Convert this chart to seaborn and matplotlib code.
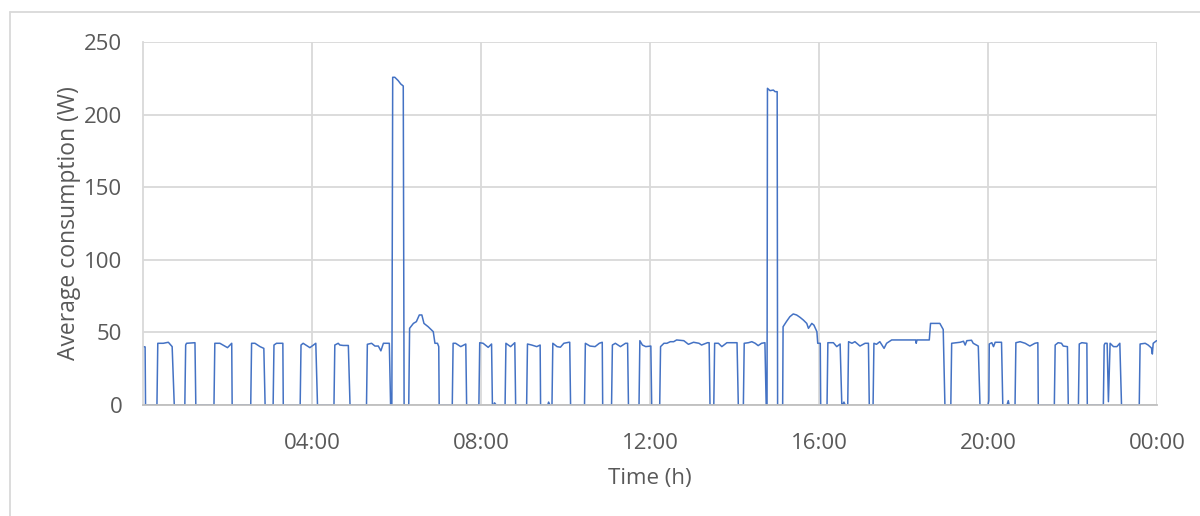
import matplotlib
matplotlib.use("Agg")
import matplotlib.pyplot as plt
from matplotlib.lines import Line2D
import seaborn as sns
import pandas as pd

# Average consumption trace, read off the reference as polyline vertices
# hour of day (0-24) and watts
hours = [
    0.00, 0.05, 0.06,
    0.33, 0.35, 0.48, 0.60, 0.69, 0.74,
    0.99, 1.01, 1.03, 1.23, 1.25,
    1.68, 1.70, 1.82, 2.00, 2.10, 2.11,
    2.55, 2.57, 2.65, 2.77, 2.86, 2.89,
    3.08, 3.10, 3.16, 3.31, 3.32,
    3.72, 3.74, 3.79, 3.95, 4.09, 4.13,
    4.52, 4.54, 4.62, 4.66, 4.74, 4.86, 4.90,
    5.29, 5.31, 5.41, 5.49, 5.57, 5.63, 5.69, 5.83, 5.86,
    5.89, 5.91, 5.96, 6.04, 6.10, 6.16, 6.18,
    6.29, 6.31, 6.40, 6.47, 6.54, 6.60, 6.65, 6.75, 6.87, 6.91, 6.97, 7.00, 7.01,
    7.32, 7.34, 7.40, 7.52, 7.64, 7.66,
    7.95, 7.97, 8.05, 8.17, 8.25, 8.27,
    8.30, 8.32, 8.36,
    8.57, 8.59, 8.70, 8.80, 8.82,
    9.08, 9.10, 9.20, 9.32, 9.40, 9.41,
    9.58, 9.60, 9.63,
    9.68, 9.70, 9.80, 9.88, 9.96, 10.08, 10.10, 10.12,
    10.45, 10.47, 10.58, 10.70, 10.80, 10.87, 10.88,
    11.09, 11.11, 11.18, 11.30, 11.42, 11.47, 11.49,
    11.74, 11.76, 11.82, 11.90, 12.02, 12.04,
    12.23, 12.25, 12.33, 12.40, 12.48, 12.56, 12.63, 12.80, 12.91, 13.03, 13.16, 13.22, 13.36, 13.40, 13.42,
    13.51, 13.53, 13.62, 13.70, 13.82, 14.06, 14.09,
    14.21, 14.23, 14.33, 14.41, 14.49, 14.56, 14.64, 14.72, 14.75,
    14.77, 14.78, 14.84, 14.92, 14.96, 15.01, 15.02,
    15.14, 15.15, 15.23, 15.31, 15.39, 15.47, 15.55, 15.63, 15.71, 15.75, 15.83, 15.88, 15.95, 15.97, 16.03, 16.04,
    16.19, 16.21, 16.34, 16.42, 16.50, 16.54,
    16.56, 16.59, 16.62,
    16.68, 16.70, 16.78, 16.85, 16.97, 17.09, 17.17, 17.19,
    17.28, 17.30, 17.36, 17.44, 17.54, 17.60, 17.72, 18.00, 18.29, 18.30, 18.32, 18.61, 18.64, 18.86, 18.94, 18.98,
    19.12, 19.14, 19.34, 19.42, 19.46, 19.50, 19.61, 19.65, 19.77, 19.81,
    20.00, 20.02, 20.03, 20.09, 20.13, 20.17, 20.32, 20.35,
    20.45, 20.48, 20.50,
    20.64, 20.66, 20.76, 20.88, 20.99, 21.11, 21.18, 21.19,
    21.57, 21.59, 21.66, 21.74, 21.78, 21.88, 21.90,
    22.14, 22.16, 22.22, 22.34, 22.35,
    22.73, 22.75, 22.77, 22.82, 22.85, 22.89, 22.97, 23.05, 23.12, 23.16,
    23.58, 23.60, 23.72, 23.79, 23.87, 23.89, 23.91, 23.99,
]
watts = [
    40.2, 40.0, 0,
    0, 42.5, 42.5, 43.2, 40.2, 0,
    0, 41.3, 42.5, 42.9, 0,
    0, 42.5, 42.5, 39.5, 42.5, 0,
    0, 42.5, 42.5, 40.2, 39.0, 0,
    0, 41.3, 42.5, 42.5, 0,
    0, 41.3, 42.5, 39.5, 42.5, 0,
    0, 41.3, 42.5, 41.3, 41.0, 41.0, 0,
    0, 41.8, 42.5, 40.6, 40.6, 37.3, 42.5, 42.5, 0,
    0, 225.7, 225.7, 223.4, 221.1, 219.7, 0,
    0, 52.8, 56.2, 57.4, 62.0, 62.0, 56.2, 53.9, 50.5, 42.5, 42.5, 40.2, 0,
    0, 42.5, 42.5, 40.2, 42.0, 0,
    0, 42.9, 42.5, 39.7, 42.0, 0,
    0, 1.5, 0,
    0, 42.5, 40.2, 42.9, 0,
    0, 42.0, 41.3, 40.2, 41.3, 0,
    0, 2.0, 0,
    0, 42.5, 40.2, 39.8, 42.5, 43.2, 43.2, 0,
    0, 42.5, 40.6, 40.2, 42.5, 43.2, 0,
    0, 41.3, 42.5, 40.2, 42.5, 42.5, 0,
    0, 44.3, 41.3, 40.2, 40.6, 0,
    0, 40.2, 42.5, 42.5, 43.6, 43.6, 44.8, 44.3, 41.8, 43.2, 42.5, 41.3, 42.9, 42.9, 0,
    0, 42.5, 42.5, 40.2, 42.9, 42.9, 0,
    0, 42.5, 42.9, 43.6, 42.5, 40.9, 42.5, 42.9, 0,
    0, 218.1, 216.5, 216.9, 215.8, 215.8, 0,
    0, 53.9, 57.5, 60.8, 62.7, 62.0, 60.4, 58.5, 56.2, 52.8, 56.2, 55.0, 50.5, 42.5, 42.5, 0,
    0, 42.9, 42.9, 40.2, 42.0, 0,
    0, 2.0, 0,
    0, 43.6, 42.5, 43.6, 40.6, 42.5, 42.5, 0,
    0, 42.5, 41.8, 43.6, 39.0, 42.5, 44.8, 44.8, 44.8, 42.5, 44.8, 44.8, 56.2, 56.2, 52.0, 0,
    0, 42.5, 43.2, 43.9, 41.3, 44.3, 44.6, 42.5, 40.6, 0,
    0, 3.0, 42.0, 42.9, 40.2, 43.2, 43.2, 0,
    0, 3.0, 0,
    0, 42.9, 43.6, 42.5, 40.6, 42.5, 42.9, 0,
    0, 41.3, 42.9, 42.5, 40.6, 40.2, 0,
    0, 42.0, 42.9, 42.5, 0,
    0, 41.3, 42.5, 42.5, 2.3, 42.5, 40.2, 40.2, 42.5, 0,
    0, 42.0, 42.5, 41.3, 39.2, 35.1, 42.5, 44.3,
]

tick_hours = [4, 8, 12, 16, 20, 24]
tick_labels = ["04:00", "08:00", "12:00", "16:00", "20:00", "00:00"]
y_ticks = [0, 50, 100, 150, 200, 250]

df = pd.DataFrame({"hour": hours, "watts": watts})

sns.set_style("white")
plt.rcParams["font.family"] = ["Open Sans", "DejaVu Sans"]

fig = plt.figure(figsize=(12, 5.16), dpi=100)
ax = fig.add_axes([143 / 1200, 1 - 405 / 516, 1014 / 1200, 363 / 516])

sns.lineplot(data=df, x="hour", y="watts", ax=ax, sort=False, estimator=None,
             color="#4472C4", linewidth=1.1)

ax.set_xlim(0, 24)
ax.set_ylim(0, 250)
ax.set_xticks(tick_hours)
ax.set_xticklabels(tick_labels)
ax.set_xticks(range(0, 25), minor=True)
ax.set_yticks(y_ticks)
ax.grid(True, which="major", color="#D9D9D9", linewidth=1.3)
ax.set_axisbelow(True)

ax.tick_params(axis="x", which="both", direction="in", length=5, width=1.3,
               color="#BFBFBF", labelsize=16, labelcolor="#595959", pad=20)
ax.tick_params(axis="y", length=0, labelsize=16, labelcolor="#595959", pad=15)

for side in ["top", "right"]:
    ax.spines[side].set_visible(False)
ax.spines["left"].set_color("#D9D9D9")
ax.spines["left"].set_linewidth(1.3)
ax.spines["bottom"].set_color("#BFBFBF")
ax.spines["bottom"].set_linewidth(1.3)

ax.set_xlabel("Time (h)", fontsize=16, color="#595959", labelpad=10)
ax.set_ylabel("Average consumption (W)", fontsize=16.5, color="#595959", labelpad=2)

# outer chart-area border (left and top edges visible in the reference)
fig.add_artist(Line2D([10 / 1200, 10 / 1200], [0, 1 - 12 / 516], color="#D9D9D9", lw=1.3))
fig.add_artist(Line2D([10 / 1200, 1], [1 - 12 / 516, 1 - 12 / 516], color="#D9D9D9", lw=1.3))

fig.savefig("out.png", dpi=100)
